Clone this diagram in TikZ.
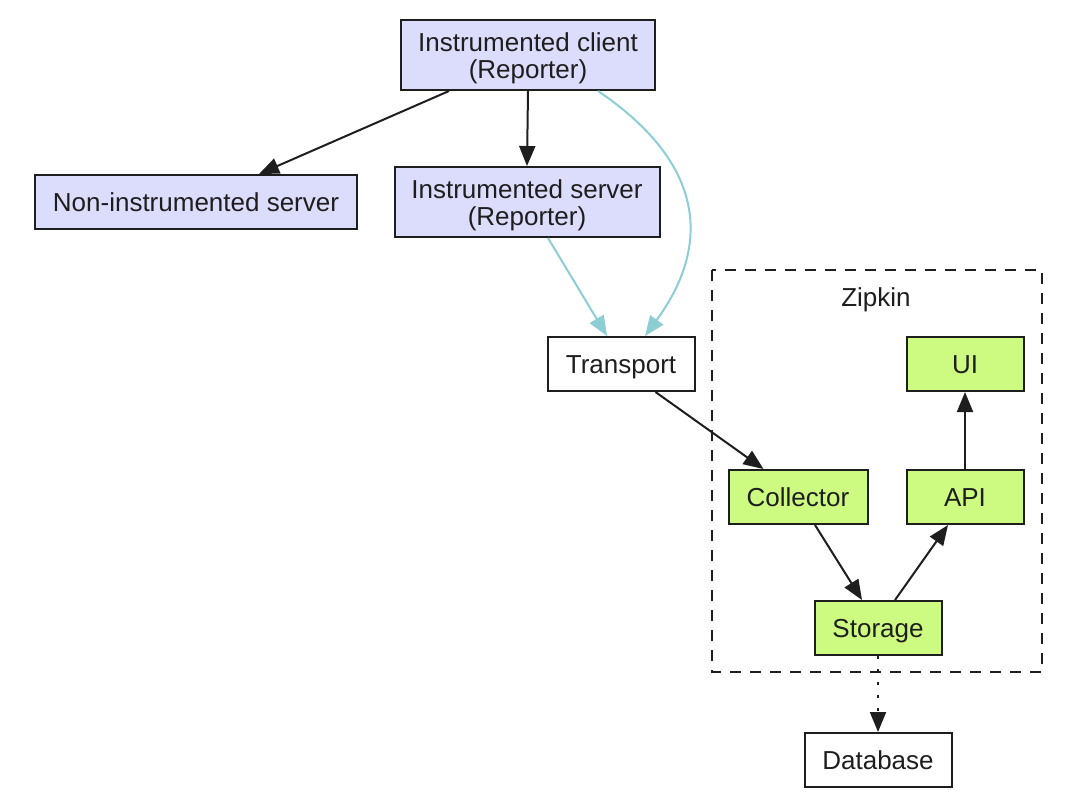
\documentclass[tikz,border=0pt]{standalone}
\usepackage{fontspec}
\setmainfont{Liberation Sans}
\usetikzlibrary{arrows.meta}
\definecolor{lav}{RGB}{220,220,252}
\definecolor{grn}{RGB}{205,250,128}
\definecolor{teal2}{RGB}{140,206,212}
\definecolor{ink}{RGB}{30,30,30}
\begin{document}
\begin{tikzpicture}[x=0.5pt,y=-0.5pt,
  every node/.style={font=\fontsize{13}{14}\selectfont, text=ink},
  box/.style={draw=ink, line width=1pt, minimum height=27pt, inner sep=0pt, align=center},
  onel/.style={text height=9.6pt, text depth=0.4pt},
  lavbox/.style={box, fill=lav},
  grnbox/.style={box, fill=grn, onel},
  whbox/.style={box, fill=white, onel},
  tip/.style={-{Triangle[length=10pt,width=8pt]}},
  arr/.style={tip, line width=1pt, draw=ink},
  tarr/.style={tip, line width=1pt, draw=teal2},
]
\useasboundingbox (0,0) rectangle (1080,800);
% Zipkin cluster
\draw[draw=ink, line width=1pt, dash pattern=on 5.5pt off 4.5pt] (712,270) rectangle (1042,672);
\node[onel] (ztitle) at (876,297) {Zipkin};
% nodes
\node[lavbox, minimum width=127pt, minimum height=35pt] (client) at (528,55) {\raisebox{-2.1pt}[\height][\depth]{\begin{tabular}{@{}c@{}}Instrumented client\\[-0.8pt](Reporter)\end{tabular}}};
\node[lavbox, onel, minimum width=161pt] (nonserver) at (196,202) {Non-instrumented server};
\node[lavbox, minimum width=132.5pt, minimum height=35pt] (server) at (527,202) {\raisebox{-2.1pt}[\height][\depth]{\begin{tabular}{@{}c@{}}Instrumented server\\[-0.8pt](Reporter)\end{tabular}}};
\node[whbox, minimum width=73.5pt] (transport) at (621,364) {Transport};
\node[grnbox, minimum width=58.5pt] (ui) at (965,364) {UI};
\node[grnbox, minimum width=69.5pt] (collector) at (798,497) {Collector};
\node[grnbox, minimum width=58.5pt] (api) at (965,497) {API};
\node[grnbox, minimum width=63.5pt] (storage) at (878,628) {Storage};
\node[whbox, minimum width=73.5pt] (database) at (878,760) {Database};
% edges
\draw[arr] ([xshift=24.5pt]client.south west) -- ([xshift=-49.5pt]nonserver.north east);
\draw[arr] (client.south) -- (server.north);
\draw[tarr] ([xshift=10.5pt]server.south) -- ([xshift=-7pt]transport.north);
\draw[tarr] ([xshift=35pt]client.south) .. controls (700,160) and (715,240) .. ([xshift=12pt]transport.north);
\draw[arr] ([xshift=-20pt]transport.south east) -- ([xshift=18pt]collector.north west);
\draw[arr] ([xshift=8.5pt]collector.south) -- ([xshift=-8pt]storage.north);
\draw[arr] ([xshift=8.5pt]storage.north) -- ([xshift=-8.5pt]api.south);
\draw[arr] (api.north) -- (ui.south);
\draw[arr, dash pattern=on 1.5pt off 5pt] (storage.south) -- (database.north);
\end{tikzpicture}
\end{document}
